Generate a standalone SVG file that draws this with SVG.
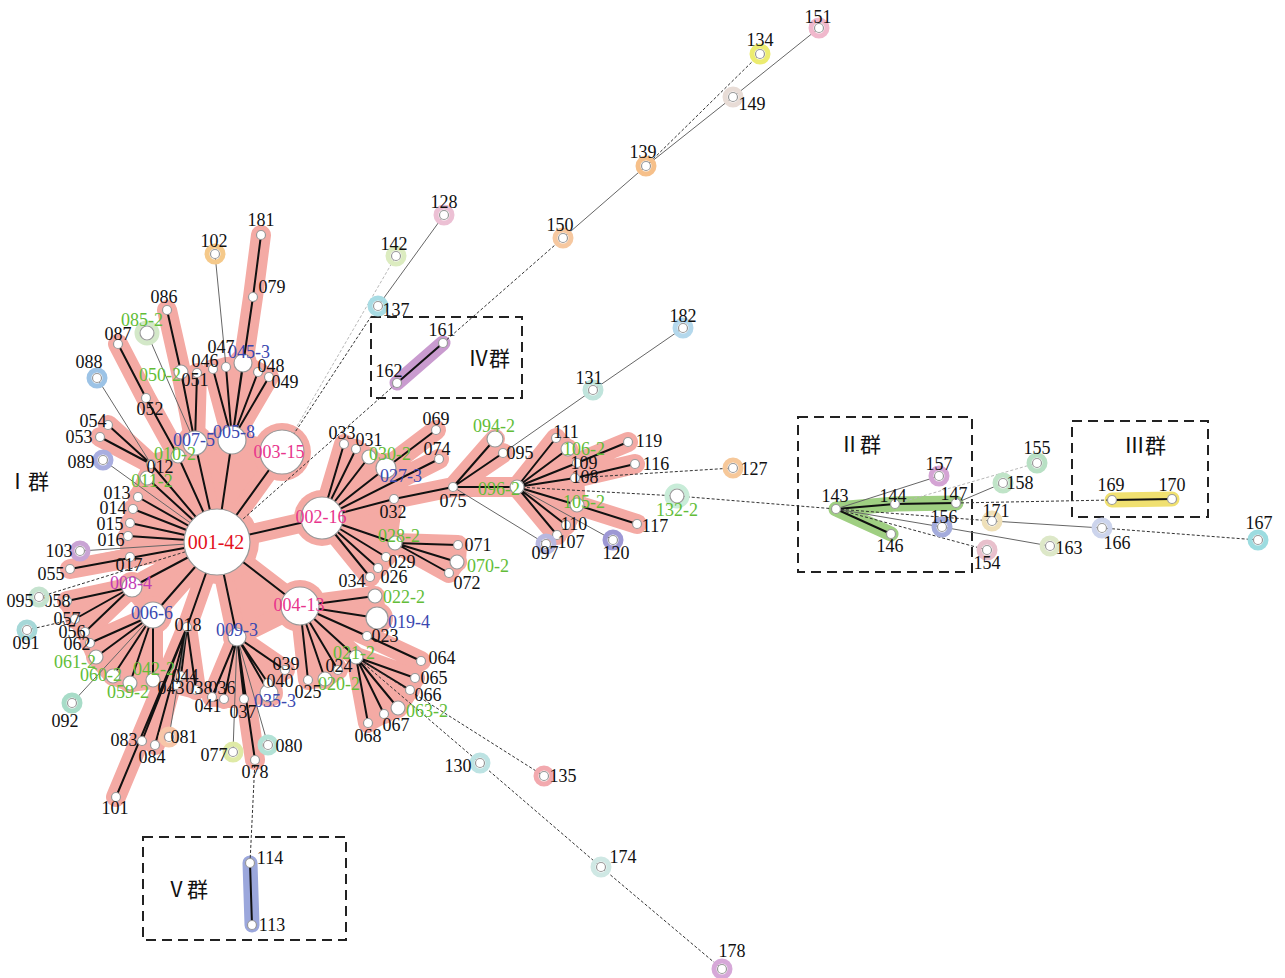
<svg xmlns="http://www.w3.org/2000/svg" width="1285" height="978" viewBox="0 0 1285 978">
<style>
.pk{fill:none;stroke:#f4aaa4;stroke-width:20;stroke-linecap:round;stroke-linejoin:round}
.pf{fill:#f4aaa4;stroke:#f4aaa4;stroke-width:18;stroke-linejoin:round}
.e{fill:none;stroke:#111;stroke-width:2}
.t{fill:none;stroke:#666;stroke-width:1}
.d{fill:none;stroke:#333;stroke-width:1;stroke-dasharray:3 2}
.dl{fill:none;stroke:#b8b8b8;stroke-width:1;stroke-dasharray:3 2}
.h{fill:none;stroke-width:15;stroke-linecap:round}
.n{fill:#fff;stroke:#999;stroke-width:1.2}
.rg{fill:none;stroke-width:5}
.box{fill:none;stroke:#222;stroke-width:2;stroke-dasharray:10 6}
text{font-family:"Liberation Serif","Noto Sans CJK SC",serif;font-size:18px;text-anchor:middle;fill:#111}
.g{fill:#62bd38}.b{fill:#3a48b0}.m{fill:#e8348c}.r{fill:#e3101c}.p{fill:#c23bb5}
.gl{font-size:21px}
</style>
<defs>
<path id="tree" d="M217 542L322 518M217 542L282 452M217 542L300 606M217 542L232 440M217 542L195 443M217 542L153 615M217 542L237 637M217 542L132 587M217 542L138 497M217 542L133 509M217 542L130 523M217 542L128 536M217 542L70 569M217 542L147 478M217 542L151 464M217 542L178 456M217 542L187 627M195 443L181 372L167 310M195 443L197 373M178 456L146 398L118 344M151 464L108 425M151 464L100 437M232 440L213 369M232 440L226 367M232 440L243 363M232 440L258 372M232 440L269 377M232 440L253 297L261 235M132 587L67 601M132 587L75 619M132 587L85 632M153 615L90 643M153 615L96 657M153 615L113 676M153 615L130 683M153 615L153 680M187 627L181 676M187 627L176 685M187 627L196 690M187 627L142 741M187 627L155 745M187 627L116 797M237 637L212 697M237 637L224 699M237 637L244 699M237 637L255 760M237 637L269 693M237 637L268 683M237 637L285 670M300 606L375 596M300 606L377 618M300 606L367 636L421 661M300 606L338 670M300 606L356 657M300 606L325 679M300 606L308 680M356 657L415 678M356 657L410 690M356 657L398 708M356 657L384 714M356 657L368 723M322 518L344 444M322 518L356 449M322 518L369 457M322 518L386 468L436 430M322 518L439 459M322 518L394 499L453 487M322 518L386 557M322 518L378 568M322 518L370 577M322 518L395 543M395 543L458 545M395 543L457 562M395 543L449 573M453 487L495 439M453 487L503 453M453 487L517 487M517 487L556 438M517 487L568 449M517 487L577 463L628 442M517 487L575 478L635 464M517 487L577 505L637 524M517 487L566 525M517 487L557 535"/>
</defs>
<g id="halos">
<use href="#tree" class="pk"/>
<g class="pf">
<polygon points="217,542 138,497 128,536 130,557 70,569"/>
<polygon points="217,542 178,456 151,464 147,478 138,497"/>
<polygon points="217,542 195,443 232,440 282,452"/>
<polygon points="217,542 132,587 153,615"/>
<polygon points="217,542 237,637 300,606"/>
<polygon points="132,587 67,601 85,632"/>
<polygon points="153,615 90,643 96,657 113,676 130,683 153,680"/>
<polygon points="232,440 213,369 243,363 269,377"/>
<polygon points="187,627 181,676 176,685 196,690"/>
<polygon points="237,637 212,697 224,699 244,699 269,693 268,683 285,670"/>
<polygon points="300,606 375,596 377,618 367,636"/>
<polygon points="300,606 338,670 325,679 308,680"/>
<polygon points="356,657 415,678 410,690 398,708 384,714 368,723"/>
<polygon points="322,518 344,444 356,449 369,457 386,468"/>
<polygon points="322,518 394,499 386,557 378,568 370,577"/>
<polygon points="395,543 458,545 457,562 449,573"/>
<polygon points="517,487 556,438 568,449 577,463 575,478 577,505 566,525 557,535"/>
</g>
<g fill="#f4aaa4">
<circle cx="217" cy="542" r="42"/><circle cx="322" cy="518" r="28"/><circle cx="282" cy="452" r="29"/><circle cx="300" cy="606" r="26"/><circle cx="232" cy="440" r="20"/><circle cx="153" cy="615" r="19"/><circle cx="195" cy="443" r="18"/><circle cx="132" cy="587" r="15"/><circle cx="237" cy="637" r="14"/><circle cx="377" cy="618" r="16"/><circle cx="386" cy="468" r="15"/><circle cx="269" cy="693" r="14"/><circle cx="243" cy="363" r="14"/>
</g>
<path class="h" stroke="#c99bcf" d="M397 383L443 343"/>
<path class="h" stroke="#9ba7dc" d="M250 863L252 925"/>
<path class="h" stroke="#9fcf82" d="M836 509L895 504L956 503M836 509L891 534"/>
<path class="h" stroke="#f0e070" d="M1112 500L1172 499"/>
</g>
<g id="boxes">
<rect class="box" x="371" y="317" width="151" height="81"/>
<rect class="box" x="143" y="837" width="203" height="103"/>
<rect class="box" x="798" y="417" width="174" height="155"/>
<rect class="box" x="1072" y="421" width="136" height="96"/>
<text class="gl" x="489" y="366">Ⅳ群</text>
<text class="gl" x="187" y="897">Ⅴ群</text>
<text class="gl" x="860" y="452">Ⅱ群</text>
<text class="gl" x="1145" y="453">Ⅲ群</text>
<text class="gl" x="28" y="489">Ⅰ群</text>
</g>
<g id="connectors">
<use href="#tree" class="e"/>
<path class="e" d="M397 383L443 343M250 863L252 925M836 509L895 504L956 503M836 509L891 534M1112 500L1172 499"/>
<path class="t" d="M97 378L151 464M103 460L217 542M147 333L195 443M215 254L226 367M80 551L217 542M72 703L153 615M169 737L187 627M233 752L237 637M268 745L237 637M453 487L546 544M517 487L613 540M503 453L593 390L683 328M378 306L444 215M563 238L646 166L733 97L819 28M836 509L939 476M956 503L1003 483M836 509L942 527L1050 546M992 521L1102 528"/>
<path class="d" d="M39 597L217 542M27 630L75 619M255 760L250 863M356 657L480 763L601 867L722 969M356 657L544 776M217 542L397 383M443 343L563 238M646 166L760 54M282 452L378 306M575 478L733 468M517 487L677 496L836 509M956 503L1112 500M836 509L992 521M1102 528L1258 540M836 509L987 550"/>
<path class="dl" d="M282 452L396 256M895 504L1037 463"/>
</g>
<g id="n001-42"><circle class="n" cx="217" cy="542" r="33"/><text class="r" x="216" y="549" style="font-size:20px">001-42</text></g>
<g id="n002-16"><circle class="n" cx="322" cy="518" r="21"/><text class="m" x="321" y="523">002-16</text></g>
<g id="n003-15"><circle class="n" cx="282" cy="452" r="22"/><text class="m" x="279" y="458">003-15</text></g>
<g id="n004-13"><circle class="n" cx="300" cy="606" r="19"/><text class="m" x="299" y="611">004-13</text></g>
<g id="n005-8"><circle class="n" cx="232" cy="440" r="14"/><text class="b" x="234" y="438">005-8</text></g>
<g id="n006-6"><circle class="n" cx="153" cy="615" r="13"/><text class="b" x="152" y="619">006-6</text></g>
<g id="n007-5"><circle class="n" cx="195" cy="443" r="12"/><text class="b" x="194" y="446">007-5</text></g>
<g id="n008-4"><circle class="n" cx="132" cy="587" r="10"/><text class="p" x="131" y="589">008-4</text></g>
<g id="n009-3"><circle class="n" cx="237" cy="637" r="9"/><text class="b" x="237" y="636">009-3</text></g>
<g id="n019-4"><circle class="n" cx="377" cy="618" r="11"/><text class="b" x="409" y="628">019-4</text></g>
<g id="n045-3"><circle class="n" cx="243" cy="363" r="9"/><text class="b" x="249" y="358">045-3</text></g>
<g id="n027-3"><circle class="n" cx="386" cy="468" r="10"/><text class="b" x="401" y="482">027-3</text></g>
<g id="n035-3"><circle class="n" cx="269" cy="693" r="9"/><text class="b" x="275" y="707">035-3</text></g>
<g id="n010-2"><circle class="n" cx="178" cy="456" r="7"/><text class="g" x="175" y="460">010-2</text></g>
<g id="n011-2"><circle class="n" cx="147" cy="478" r="7"/><text class="g" x="152" y="487">011-2</text></g>
<g id="n020-2"><circle class="n" cx="325" cy="679" r="7"/><text class="g" x="339" y="690">020-2</text></g>
<g id="n021-2"><circle class="n" cx="356" cy="657" r="7"/><text class="g" x="354" y="659">021-2</text></g>
<g id="n022-2"><circle class="n" cx="375" cy="596" r="7"/><text class="g" x="404" y="603">022-2</text></g>
<g id="n028-2"><circle class="n" cx="395" cy="543" r="7"/><text class="g" x="399" y="542">028-2</text></g>
<g id="n030-2"><circle class="n" cx="369" cy="457" r="7"/><text class="g" x="390" y="460">030-2</text></g>
<g id="n042-2"><circle class="n" cx="153" cy="680" r="7"/><text class="g" x="154" y="675">042-2</text></g>
<g id="n050-2"><circle class="n" cx="181" cy="372" r="7"/><text class="g" x="160" y="381">050-2</text></g>
<g id="n059-2"><circle class="n" cx="130" cy="683" r="7"/><text class="g" x="128" y="698">059-2</text></g>
<g id="n060-2"><circle class="n" cx="113" cy="676" r="7"/><text class="g" x="101" y="681">060-2</text></g>
<g id="n061-2"><circle class="n" cx="96" cy="657" r="7"/><text class="g" x="75" y="668">061-2</text></g>
<g id="n063-2"><circle class="n" cx="398" cy="708" r="7"/><text class="g" x="427" y="717">063-2</text></g>
<g id="n070-2"><circle class="n" cx="457" cy="562" r="7"/><text class="g" x="488" y="572">070-2</text></g>
<g id="n085-2"><circle class="rg" cx="147" cy="333" r="10" stroke="#d3e8c8"/><circle class="n" cx="147" cy="333" r="7"/><text class="g" x="142" y="326">085-2</text></g>
<g id="n094-2"><circle class="n" cx="495" cy="439" r="8"/><text class="g" x="494" y="432">094-2</text></g>
<g id="n096-2"><circle class="n" cx="517" cy="487" r="7"/><text class="g" x="499" y="495">096-2</text></g>
<g id="n105-2"><circle class="n" cx="577" cy="505" r="7"/><text class="g" x="584" y="508">105-2</text></g>
<g id="n106-2"><circle class="n" cx="568" cy="449" r="7"/><text class="g" x="584" y="455">106-2</text></g>
<g id="n132-2"><circle class="rg" cx="677" cy="496" r="10" stroke="#c8ecd8"/><circle class="n" cx="677" cy="496" r="7"/><text class="g" x="677" y="516">132-2</text></g>
<g id="n012"><circle class="n" cx="151" cy="464" r="4.5"/><text x="160" y="473">012</text></g>
<g id="n013"><circle class="n" cx="138" cy="497" r="4.5"/><text x="117" y="499">013</text></g>
<g id="n014"><circle class="n" cx="133" cy="509" r="4.5"/><text x="113" y="514">014</text></g>
<g id="n015"><circle class="n" cx="130" cy="523" r="4.5"/><text x="110" y="530">015</text></g>
<g id="n016"><circle class="n" cx="128" cy="536" r="4.5"/><text x="111" y="546">016</text></g>
<g id="n017"><circle class="n" cx="130" cy="557" r="4.5"/><text x="129" y="571">017</text></g>
<g id="n018"><circle class="n" cx="187" cy="627" r="4.5"/><text x="188" y="631">018</text></g>
<g id="n023"><circle class="n" cx="367" cy="636" r="4.5"/><text x="385" y="642">023</text></g>
<g id="n024"><circle class="n" cx="338" cy="670" r="4.5"/><text x="339" y="672">024</text></g>
<g id="n025"><circle class="n" cx="308" cy="680" r="4.5"/><text x="308" y="698">025</text></g>
<g id="n026"><circle class="n" cx="378" cy="568" r="4.5"/><text x="394" y="583">026</text></g>
<g id="n029"><circle class="n" cx="386" cy="557" r="4.5"/><text x="402" y="568">029</text></g>
<g id="n031"><circle class="n" cx="356" cy="449" r="4.5"/><text x="369" y="446">031</text></g>
<g id="n032"><circle class="n" cx="394" cy="499" r="4.5"/><text x="393" y="518">032</text></g>
<g id="n033"><circle class="n" cx="344" cy="444" r="4.5"/><text x="342" y="439">033</text></g>
<g id="n034"><circle class="n" cx="370" cy="577" r="4.5"/><text x="352" y="587">034</text></g>
<g id="n036"><circle class="n" cx="224" cy="699" r="4.5"/><text x="222" y="694">036</text></g>
<g id="n037"><circle class="n" cx="244" cy="699" r="4.5"/><text x="243" y="718">037</text></g>
<g id="n038"><circle class="n" cx="196" cy="690" r="4.5"/><text x="199" y="694">038</text></g>
<g id="n039"><circle class="n" cx="285" cy="670" r="4.5"/><text x="286" y="670">039</text></g>
<g id="n040"><circle class="n" cx="268" cy="683" r="4.5"/><text x="280" y="687">040</text></g>
<g id="n041"><circle class="n" cx="212" cy="697" r="4.5"/><text x="208" y="712">041</text></g>
<g id="n043"><circle class="n" cx="176" cy="685" r="4.5"/><text x="171" y="694">043</text></g>
<g id="n044"><circle class="n" cx="181" cy="676" r="4.5"/><text x="185" y="682">044</text></g>
<g id="n046"><circle class="n" cx="213" cy="369" r="4.5"/><text x="205" y="367">046</text></g>
<g id="n047"><circle class="n" cx="226" cy="367" r="4.5"/><text x="221" y="353">047</text></g>
<g id="n048"><circle class="n" cx="258" cy="372" r="4.5"/><text x="271" y="372">048</text></g>
<g id="n049"><circle class="n" cx="269" cy="377" r="4.5"/><text x="285" y="388">049</text></g>
<g id="n051"><circle class="n" cx="197" cy="373" r="4.5"/><text x="195" y="386">051</text></g>
<g id="n052"><circle class="n" cx="146" cy="398" r="4.5"/><text x="150" y="415">052</text></g>
<g id="n053"><circle class="n" cx="100" cy="437" r="4.5"/><text x="79" y="443">053</text></g>
<g id="n054"><circle class="n" cx="108" cy="425" r="4.5"/><text x="93" y="427">054</text></g>
<g id="n055"><circle class="n" cx="70" cy="569" r="4.5"/><text x="51" y="580">055</text></g>
<g id="n056"><circle class="n" cx="85" cy="632" r="4.5"/><text x="72" y="638">056</text></g>
<g id="n057"><circle class="n" cx="75" cy="619" r="4.5"/><text x="67" y="625">057</text></g>
<g id="n058"><circle class="n" cx="67" cy="601" r="4.5"/><text x="57" y="607">058</text></g>
<g id="n062"><circle class="n" cx="90" cy="643" r="4.5"/><text x="77" y="650">062</text></g>
<g id="n064"><circle class="n" cx="421" cy="661" r="4.5"/><text x="442" y="664">064</text></g>
<g id="n065"><circle class="n" cx="415" cy="678" r="4.5"/><text x="434" y="684">065</text></g>
<g id="n066"><circle class="n" cx="410" cy="690" r="4.5"/><text x="428" y="701">066</text></g>
<g id="n067"><circle class="n" cx="384" cy="714" r="4.5"/><text x="396" y="731">067</text></g>
<g id="n068"><circle class="n" cx="368" cy="723" r="4.5"/><text x="368" y="742">068</text></g>
<g id="n069"><circle class="n" cx="436" cy="430" r="4.5"/><text x="436" y="425">069</text></g>
<g id="n071"><circle class="n" cx="458" cy="545" r="4.5"/><text x="478" y="551">071</text></g>
<g id="n072"><circle class="n" cx="449" cy="573" r="4.5"/><text x="467" y="589">072</text></g>
<g id="n074"><circle class="n" cx="439" cy="459" r="4.5"/><text x="437" y="455">074</text></g>
<g id="n075"><circle class="n" cx="453" cy="487" r="4.5"/><text x="453" y="507">075</text></g>
<g id="n078"><circle class="n" cx="255" cy="760" r="4.5"/><text x="255" y="778">078</text></g>
<g id="n079"><circle class="n" cx="253" cy="297" r="4.5"/><text x="272" y="293">079</text></g>
<g id="n083"><circle class="n" cx="142" cy="741" r="4.5"/><text x="124" y="746">083</text></g>
<g id="n084"><circle class="n" cx="155" cy="745" r="4.5"/><text x="152" y="763">084</text></g>
<g id="n086"><circle class="n" cx="167" cy="310" r="4.5"/><text x="164" y="303">086</text></g>
<g id="n087"><circle class="n" cx="118" cy="344" r="4.5"/><text x="118" y="340">087</text></g>
<g id="n095b"><circle class="n" cx="503" cy="453" r="4.5"/><text x="520" y="459">095</text></g>
<g id="n101"><circle class="n" cx="116" cy="797" r="4.5"/><text x="115" y="814">101</text></g>
<g id="n107"><circle class="n" cx="557" cy="535" r="4.5"/><text x="571" y="548">107</text></g>
<g id="n108"><circle class="n" cx="575" cy="478" r="4.5"/><text x="585" y="483">108</text></g>
<g id="n109"><circle class="n" cx="577" cy="463" r="4.5"/><text x="584" y="469">109</text></g>
<g id="n110"><circle class="n" cx="566" cy="525" r="4.5"/><text x="574" y="530">110</text></g>
<g id="n111"><circle class="n" cx="556" cy="438" r="4.5"/><text x="566" y="438">111</text></g>
<g id="n116"><circle class="n" cx="635" cy="464" r="4.5"/><text x="656" y="470">116</text></g>
<g id="n117"><circle class="n" cx="637" cy="524" r="4.5"/><text x="655" y="532">117</text></g>
<g id="n119"><circle class="n" cx="628" cy="442" r="4.5"/><text x="649" y="447">119</text></g>
<g id="n181"><circle class="n" cx="261" cy="235" r="4.5"/><text x="261" y="226">181</text></g>
<g id="n088"><circle class="rg" cx="97" cy="378" r="8" stroke="#9cc3e6"/><circle class="n" cx="97" cy="378" r="4.5"/><text x="89" y="368">088</text></g>
<g id="n089"><circle class="rg" cx="103" cy="460" r="8" stroke="#a9aee0"/><circle class="n" cx="103" cy="460" r="4.5"/><text x="81" y="468">089</text></g>
<g id="n091"><circle class="rg" cx="27" cy="630" r="8" stroke="#a6d8d8"/><circle class="n" cx="27" cy="630" r="4.5"/><text x="26" y="649">091</text></g>
<g id="n092"><circle class="rg" cx="72" cy="703" r="8" stroke="#a8dcc8"/><circle class="n" cx="72" cy="703" r="4.5"/><text x="65" y="727">092</text></g>
<g id="n095a"><circle class="rg" cx="39" cy="597" r="8" stroke="#c5e3cf"/><circle class="n" cx="39" cy="597" r="4.5"/><text x="20" y="607">095</text></g>
<g id="n102"><circle class="rg" cx="215" cy="254" r="8" stroke="#f5c98a"/><circle class="n" cx="215" cy="254" r="4.5"/><text x="214" y="247">102</text></g>
<g id="n103"><circle class="rg" cx="80" cy="551" r="8" stroke="#c9a4d4"/><circle class="n" cx="80" cy="551" r="4.5"/><text x="59" y="557">103</text></g>
<g id="n077"><circle class="rg" cx="233" cy="752" r="8" stroke="#dfeaa6"/><circle class="n" cx="233" cy="752" r="4.5"/><text x="214" y="761">077</text></g>
<g id="n080"><circle class="rg" cx="268" cy="745" r="8" stroke="#b3e2d6"/><circle class="n" cx="268" cy="745" r="4.5"/><text x="289" y="752">080</text></g>
<g id="n081"><circle class="rg" cx="169" cy="737" r="8" stroke="#f7c6a8"/><circle class="n" cx="169" cy="737" r="4.5"/><text x="184" y="743">081</text></g>
<g id="n097"><circle class="rg" cx="546" cy="544" r="8" stroke="#b8b8e0"/><circle class="n" cx="546" cy="544" r="4.5"/><text x="545" y="559">097</text></g>
<g id="n120"><circle class="rg" cx="613" cy="540" r="8" stroke="#9e98d4"/><circle class="n" cx="613" cy="540" r="4.5"/><text x="616" y="559">120</text></g>
<g id="n127"><circle class="rg" cx="733" cy="468" r="8" stroke="#f6c89a"/><circle class="n" cx="733" cy="468" r="4.5"/><text x="754" y="475">127</text></g>
<g id="n128"><circle class="rg" cx="444" cy="215" r="8" stroke="#ecc0d4"/><circle class="n" cx="444" cy="215" r="4.5"/><text x="444" y="208">128</text></g>
<g id="n130"><circle class="rg" cx="480" cy="763" r="8" stroke="#bde3e3"/><circle class="n" cx="480" cy="763" r="4.5"/><text x="458" y="772">130</text></g>
<g id="n131"><circle class="rg" cx="593" cy="390" r="8" stroke="#c0e4dc"/><circle class="n" cx="593" cy="390" r="4.5"/><text x="589" y="384">131</text></g>
<g id="n134"><circle class="rg" cx="760" cy="54" r="8" stroke="#ecec70"/><circle class="n" cx="760" cy="54" r="4.5"/><text x="760" y="46">134</text></g>
<g id="n135"><circle class="rg" cx="544" cy="776" r="8" stroke="#f2a9ae"/><circle class="n" cx="544" cy="776" r="4.5"/><text x="563" y="782">135</text></g>
<g id="n137"><circle class="rg" cx="378" cy="306" r="8" stroke="#a8dce4"/><circle class="n" cx="378" cy="306" r="4.5"/><text x="396" y="316">137</text></g>
<g id="n139"><circle class="rg" cx="646" cy="166" r="8" stroke="#f6c08a"/><circle class="n" cx="646" cy="166" r="4.5"/><text x="643" y="158">139</text></g>
<g id="n142"><circle class="rg" cx="396" cy="256" r="8" stroke="#dcecc0"/><circle class="n" cx="396" cy="256" r="4.5"/><text x="394" y="250">142</text></g>
<g id="n149"><circle class="rg" cx="733" cy="97" r="8" stroke="#e8dcd6"/><circle class="n" cx="733" cy="97" r="4.5"/><text x="752" y="110">149</text></g>
<g id="n150"><circle class="rg" cx="563" cy="238" r="8" stroke="#f6c8a0"/><circle class="n" cx="563" cy="238" r="4.5"/><text x="560" y="231">150</text></g>
<g id="n151"><circle class="rg" cx="819" cy="28" r="8" stroke="#f0b8cc"/><circle class="n" cx="819" cy="28" r="4.5"/><text x="818" y="23">151</text></g>
<g id="n174"><circle class="rg" cx="601" cy="867" r="8" stroke="#cfe8e4"/><circle class="n" cx="601" cy="867" r="4.5"/><text x="623" y="863">174</text></g>
<g id="n178"><circle class="rg" cx="722" cy="969" r="8" stroke="#d6a8d8"/><circle class="n" cx="722" cy="969" r="4.5"/><text x="732" y="957">178</text></g>
<g id="n182"><circle class="rg" cx="683" cy="328" r="8" stroke="#b4d8ec"/><circle class="n" cx="683" cy="328" r="4.5"/><text x="683" y="322">182</text></g>
<g id="n161"><circle class="n" cx="443" cy="343" r="4.5"/><text x="442" y="336">161</text></g>
<g id="n162"><circle class="n" cx="397" cy="383" r="4.5"/><text x="389" y="377">162</text></g>
<g id="n113"><circle class="n" cx="252" cy="925" r="4.5"/><text x="272" y="931">113</text></g>
<g id="n114"><circle class="n" cx="250" cy="863" r="4.5"/><text x="270" y="864">114</text></g>
<g id="n143"><circle class="n" cx="836" cy="509" r="4.5"/><text x="835" y="502">143</text></g>
<g id="n144"><circle class="n" cx="895" cy="504" r="4.5"/><text x="893" y="502">144</text></g>
<g id="n147"><circle class="n" cx="956" cy="503" r="4.5"/><text x="954" y="500">147</text></g>
<g id="n146"><circle class="n" cx="891" cy="534" r="4.5"/><text x="890" y="552">146</text></g>
<g id="n157"><circle class="rg" cx="939" cy="476" r="8" stroke="#d4a4d4"/><circle class="n" cx="939" cy="476" r="4.5"/><text x="939" y="470">157</text></g>
<g id="n156"><circle class="rg" cx="942" cy="527" r="8" stroke="#a4acdc"/><circle class="n" cx="942" cy="527" r="4.5"/><text x="944" y="523">156</text></g>
<g id="n155"><circle class="rg" cx="1037" cy="463" r="8" stroke="#b8e0c4"/><circle class="n" cx="1037" cy="463" r="4.5"/><text x="1037" y="454">155</text></g>
<g id="n158"><circle class="rg" cx="1003" cy="483" r="8" stroke="#c0e4c8"/><circle class="n" cx="1003" cy="483" r="4.5"/><text x="1020" y="489">158</text></g>
<g id="n171"><circle class="rg" cx="992" cy="521" r="8" stroke="#efe0b8"/><circle class="n" cx="992" cy="521" r="4.5"/><text x="996" y="517">171</text></g>
<g id="n154"><circle class="rg" cx="987" cy="550" r="8" stroke="#e8c0cc"/><circle class="n" cx="987" cy="550" r="4.5"/><text x="987" y="569">154</text></g>
<g id="n163"><circle class="rg" cx="1050" cy="546" r="8" stroke="#dde8c8"/><circle class="n" cx="1050" cy="546" r="4.5"/><text x="1069" y="554">163</text></g>
<g id="n166"><circle class="rg" cx="1102" cy="528" r="8" stroke="#ccd4ec"/><circle class="n" cx="1102" cy="528" r="4.5"/><text x="1117" y="549">166</text></g>
<g id="n167"><circle class="rg" cx="1258" cy="540" r="8" stroke="#9cdce0"/><circle class="n" cx="1258" cy="540" r="4.5"/><text x="1259" y="529">167</text></g>
<g id="n169"><circle class="n" cx="1112" cy="500" r="4.5"/><text x="1111" y="491">169</text></g>
<g id="n170"><circle class="n" cx="1172" cy="499" r="4.5"/><text x="1172" y="491">170</text></g>
</svg>
